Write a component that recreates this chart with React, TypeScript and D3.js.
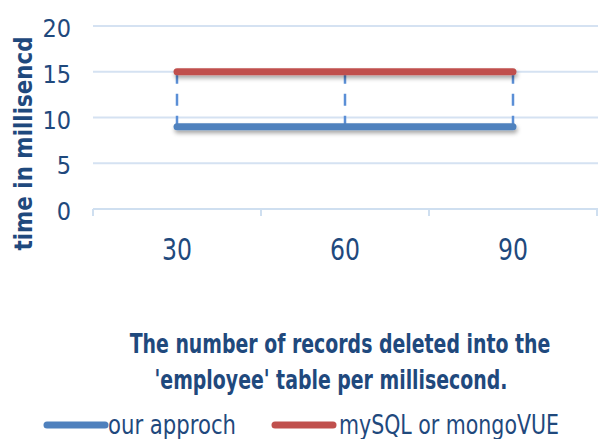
import React from "react";
import * as d3 from "d3";

const categories = ["30", "60", "90"];
const ourApproch = [9, 9, 9];
const mySQL = [15, 15, 15];
const yTicks = [0, 5, 10, 15, 20];
const seriesNames = ["our approch", "mySQL or mongoVUE"];
const seriesColors = ["#4f81bd", "#c0504d"];

const W = 598, H = 439;
const left = 93, top = 26, bottom = 209;
const FONT = "'DejaVu Sans Condensed', 'DejaVu Sans', sans-serif";
const TXT = "#1f497d";

export default function App() {
  const x = d3.scaleBand().domain(categories).range([left, left + 168 * 3]);
  const y = d3.scaleLinear().domain([0, 20]).range([bottom, top]);
  const cx = (c: string) => (x(c) as number) + x.bandwidth() / 2;
  const line = d3.line<number>().x((_, i) => cx(categories[i])).y((d) => y(d));
  const series = [ourApproch, mySQL];
  const legend = [
    { lx: 47, tx: 108, tl: 128 },
    { lx: 275, tx: 339, tl: 220 },
  ];
  return (
    <svg width={W} height={H} style={{ position: "absolute", left: 0, top: 0 }}>
      <defs>
        <filter id="sh" filterUnits="userSpaceOnUse" x="0" y="0" width={W} height={H}>
          <feDropShadow dx="1" dy="3" stdDeviation="2" floodColor="#000" floodOpacity="0.35" />
        </filter>
      </defs>
      <rect width={W} height={H} fill="#fff" />
      {yTicks.map((t) => (
        <g key={t}>
          {t > 0 && <line x1={left} x2={W} y1={y(t)} y2={y(t)} stroke="#d5e2f2" strokeWidth={2} />}
          <text x={71} y={y(t) + 11} textAnchor="end" fontFamily={FONT} fontSize={25} fill={TXT}>{t}</text>
        </g>
      ))}
      <line x1={left} x2={W} y1={bottom} y2={bottom} stroke="#cfdff0" strokeWidth={2} />
      {[0, 1, 2, 3].map((i) => (
        <line key={i} x1={left + i * x.bandwidth()} x2={left + i * x.bandwidth()} y1={bottom} y2={bottom + 7} stroke="#cfdff0" strokeWidth={2} />
      ))}
      {categories.map((c) => (
        <text key={c} x={cx(c)} y={260} textAnchor="middle" fontFamily={FONT} fontSize={30} textLength={30} lengthAdjust="spacingAndGlyphs" fill={TXT}>{c}</text>
      ))}
      {categories.map((c, i) => (
        <line key={c} x1={cx(c)} x2={cx(c)} y1={y(mySQL[i])} y2={y(ourApproch[i])} stroke="#5b8fd6" strokeWidth={2.5} strokeDasharray="12,10" />
      ))}
      {series.map((s, i) => (
        <path key={i} d={line(s) as string} fill="none" stroke={seriesColors[i]} strokeWidth={7} strokeLinecap="round" filter="url(#sh)" />
      ))}
      <text transform={`translate(32,143.5) rotate(-90)`} textAnchor="middle" fontFamily={FONT} fontWeight="bold" fontSize={24} textLength={214} lengthAdjust="spacingAndGlyphs" fill={TXT}>time in millisencd</text>
      <text transform="translate(340,353) scale(1,1.25)" textAnchor="middle" fontFamily={FONT} fontWeight="bold" fontSize={21} fill={TXT}>The number of records deleted into the</text>
      <text transform="translate(331,389) scale(1,1.25)" textAnchor="middle" fontFamily={FONT} fontWeight="bold" fontSize={21} fill={TXT}>'employee' table per millisecond.</text>
      {seriesNames.map((n, i) => {
        const L = legend[i];
        return (
          <g key={n}>
            <line x1={L.lx} x2={L.lx + 58} y1={425} y2={425} stroke={seriesColors[i]} strokeWidth={7} strokeLinecap="round" />
            <text x={L.tx} y={434} fontFamily={FONT} fontSize={26} textLength={L.tl} lengthAdjust="spacingAndGlyphs" fill={TXT}>{n}</text>
          </g>
        );
      })}
    </svg>
  );
}
